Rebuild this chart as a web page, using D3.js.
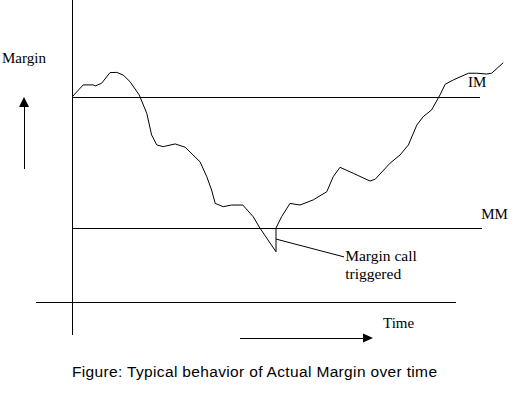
<!DOCTYPE html>
<html>
<head>
<meta charset="utf-8">
<script src="https://cdn.jsdelivr.net/npm/d3@7"></script>
<style>
  body { margin: 0; background: #fff; }
  svg { display: block; }
</style>
</head>
<body>
<div id="chart"></div>
<script>
// data (time in arbitrary units, margin level in arbitrary units)
const time   = [0, 2.8, 5.3, 5.8, 7.4, 9.5, 11.2, 12.8, 14.5, 16.8, 18.7, 19.9, 21.2, 22.8, 25.8, 28.3,
                32, 33.7, 34.9, 35.8, 37.8, 39.9, 42.7, 45.3, 47, 51, 51, 52.4, 54.5, 57, 60.3, 63.7,
                65.3, 67, 70.3, 74.5, 75.8, 79.5, 82, 84.1, 86.2, 87.8, 89.9, 92, 93.3, 95.3, 99.1,
                101.2, 103.7, 104.9, 107.8]
const margin = [100, 105.9, 105.9, 105.4, 106.7, 111.9, 112, 110.7, 107.5, 101, 92, 81.5, 76.6, 75.8, 77.1, 75.5,
                68.4, 61.1, 54.6, 48.1, 46.5, 47.3, 47.3, 41.6, 36, 24.5, 36.1, 41.6, 48.1, 47.3, 49.8, 53.8,
                61.1, 65.7, 62.8, 59, 59.9, 67.7, 71.7, 76.6, 86.3, 90.4, 93.7, 101, 106.2, 108.3, 111.6,
                111.6, 111.2, 111.6, 116.7]
const IM = 100, MM = 36
const callPoint = {t: 51, m: 30.7}      // where the leader touches the curve
const callLabel = ["Margin call", "triggered"]
const caption = "Figure: Typical behavior of Actual Margin over time"

const W = 528, H = 396

const svg = d3.select("#chart").append("svg").attr("width", W).attr("height", H)

// scales
const x = d3.scaleLinear().domain([0, 100]).range([72, 472])
const y = d3.scaleLinear().domain([0, 100]).range([302, 97])

const serif = "'Liberation Serif', 'Times New Roman', serif"

// axes
const axes = svg.append("g").attr("stroke", "#000").attr("stroke-width", 1).attr("shape-rendering", "crispEdges")
axes.append("line").attr("x1", x(0)).attr("x2", x(0)).attr("y1", y(147.3)).attr("y2", y(-16))
axes.append("line").attr("x1", x(-9)).attr("x2", x(96)).attr("y1", y(0)).attr("y2", y(0))

// IM / MM levels
axes.append("line").attr("x1", x(0)).attr("x2", x(102)).attr("y1", y(IM)).attr("y2", y(IM))
axes.append("line").attr("x1", x(0)).attr("x2", x(102.5)).attr("y1", y(MM)).attr("y2", y(MM))

// actual margin curve
const pts = time.map((t, i) => [t, margin[i]])
const line = d3.line().x(d => x(d[0])).y(d => y(d[1]))
svg.append("path").datum(pts).attr("d", line).attr("fill", "none").attr("stroke", "#000").attr("stroke-width", 1)

// level labels
svg.append("text").attr("x", x(99)).attr("y", y(IM) - 10).text("IM")
   .style("font-family", serif).style("font-size", "15px")
svg.append("text").attr("x", x(102.3)).attr("y", y(MM) - 9).text("MM")
   .style("font-family", serif).style("font-size", "15px")

// margin call leader + label
svg.append("line").attr("x1", x(callPoint.t)).attr("y1", y(callPoint.m)).attr("x2", x(68)).attr("y2", y(22))
   .attr("stroke", "#000")
svg.append("text").selectAll("tspan").data(callLabel).join("tspan")
   .attr("x", x(68.3)).attr("y", (d, i) => y(20) + i * 18).text(d => d)
   .style("font-family", serif).style("font-size", "15.5px")

// y label + up arrow
svg.append("text").attr("x", 2).attr("y", 63).text("Margin").style("font-family", serif).style("font-size", "15px")
svg.append("line").attr("x1", 24).attr("x2", 24).attr("y1", 105).attr("y2", 169).attr("stroke", "#000").attr("shape-rendering", "crispEdges")
svg.append("path").attr("d", "M24,97 L19,107 L29,107 Z").attr("fill", "#000")

// x label + right arrow
svg.append("text").attr("x", 383).attr("y", 328).text("Time").style("font-family", serif).style("font-size", "15px")
svg.append("line").attr("x1", 240).attr("x2", 365).attr("y1", 338).attr("y2", 338).attr("stroke", "#000").attr("shape-rendering", "crispEdges")
svg.append("path").attr("d", "M373,338 L363,333.5 L363,342.5 Z").attr("fill", "#000")

// caption
svg.append("text").attr("x", 72).attr("y", 377).text(caption)
   .attr("textLength", 365).attr("lengthAdjust", "spacing")
   .style("font-family", "'Liberation Sans', Arial, sans-serif").style("font-size", "15.5px").style("fill", "#000")
</script>
</body>
</html>
